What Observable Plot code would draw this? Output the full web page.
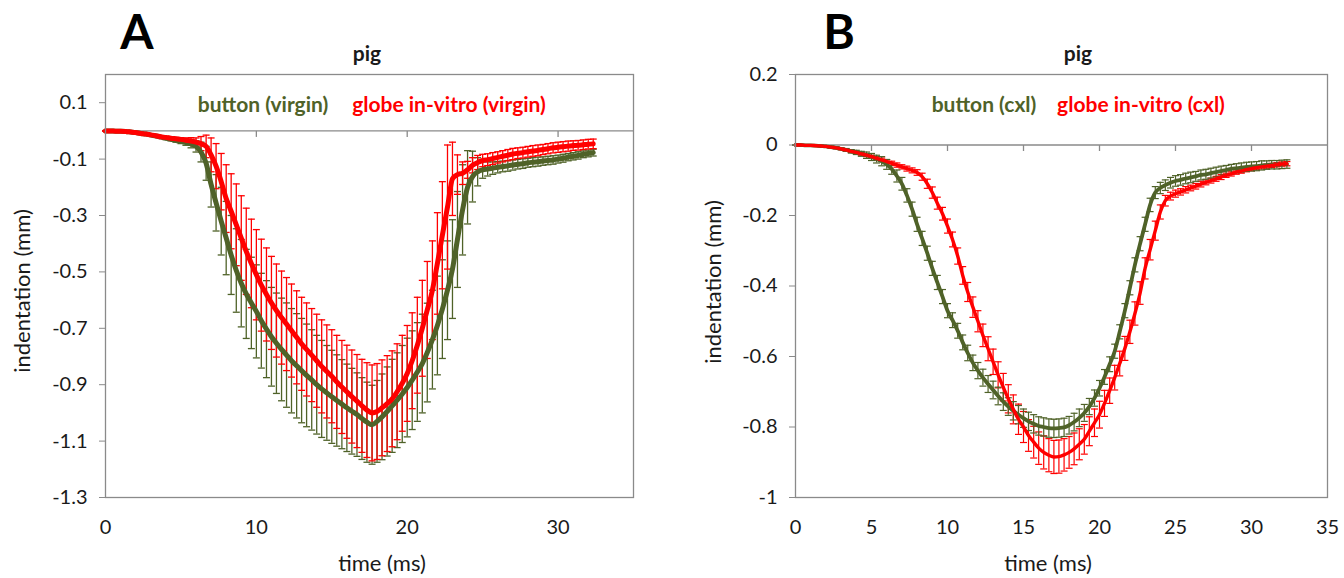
<!DOCTYPE html>
<html><head><meta charset="utf-8">
<script src="https://cdn.jsdelivr.net/npm/d3@7"></script>
<script src="https://cdn.jsdelivr.net/npm/@observablehq/plot@0.6"></script>
<style>
body{margin:0;background:#fff;font-family:Lato,"Open Sans",sans-serif;}
#wrap{position:relative;width:1344px;height:578px;overflow:hidden;background:#fff;}
.panel{position:absolute;top:0;}
.lbl{position:absolute;white-space:nowrap;color:#1a1a1a;transform:translate(-50%,-50%);line-height:1;}
.rot{transform:translate(-50%,-50%) rotate(-90deg);}
</style></head><body><div id="wrap"></div>
<script>
// ---------- data (sampled every 1/3 ms) ----------
const time = [
0,0.33,0.67, 1,1.33,1.67, 2,2.33,2.67, 3,3.33,3.67, 4,4.33,4.67, 5,5.33,5.67, 6,6.33,6.67, 7,7.33,7.67,
8,8.33,8.67, 9,9.33,9.67, 10,10.33,10.67, 11,11.33,11.67, 12,12.33,12.67, 13,13.33,13.67, 14,14.33,14.67, 15,15.33,15.67,
16,16.33,16.67, 17,17.33,17.67, 18,18.33,18.67, 19,19.33,19.67, 20,20.33,20.67, 21,21.33,21.67, 22,22.33,22.67, 23,23.33,23.67,
24,24.33,24.67, 25,25.33,25.67, 26,26.33,26.67, 27,27.33,27.67, 28,28.33,28.67, 29,29.33,29.67, 30,30.33,30.67, 31,31.33,31.67,
32,32.33];

// Panel A (virgin)
const buttonVirgin = [
0,0,-0.001, -0.001,-0.002,-0.004, -0.006,-0.009,-0.011, -0.015,-0.018,-0.022, -0.026,-0.03,-0.034, -0.037,-0.041,-0.046,
-0.055,-0.075,-0.115, -0.19,-0.255,-0.32, -0.38,-0.44,-0.495, -0.54,-0.578,-0.61, -0.64,-0.673,-0.703, -0.73,-0.753,-0.775,
-0.795,-0.815,-0.833, -0.85,-0.867,-0.883, -0.9,-0.915,-0.929, -0.943,-0.956,-0.969, -0.982,-0.994,-1.006, -1.02,-1.033,-1.042,
-1.03,-1.014,-0.995, -0.975,-0.955,-0.933, -0.91,-0.884,-0.855, -0.825,-0.786,-0.74, -0.69,-0.632,-0.565, -0.49,-0.385,-0.28,
-0.2,-0.162,-0.145, -0.138,-0.135,-0.132, -0.129,-0.126,-0.124, -0.121,-0.118,-0.116, -0.113,-0.111,-0.109, -0.107,-0.105,-0.103,
-0.1,-0.097,-0.093, -0.09,-0.087,-0.083, -0.08,-0.077];
const buttonVirginSD = [
0.001,0.001,0.001, 0.001,0.002,0.002, 0.002,0.003,0.003, 0.003,0.004,0.004, 0.005,0.005,0.006, 0.008,0.01,0.014,
0.02,0.035,0.06, 0.08,0.1,0.12, 0.13,0.14,0.148, 0.155,0.158,0.162, 0.165,0.168,0.172, 0.175,0.178,0.182,
0.185,0.185,0.185, 0.185,0.182,0.178, 0.175,0.172,0.168, 0.165,0.162,0.158, 0.155,0.152,0.148, 0.145,0.142,0.14,
0.145,0.152,0.158, 0.165,0.168,0.172, 0.175,0.175,0.175, 0.175,0.175,0.175, 0.175,0.175,0.175, 0.175,0.17,0.16,
0.13,0.09,0.05, 0.03,0.025,0.022, 0.02,0.019,0.019, 0.018,0.017,0.017, 0.016,0.016,0.016, 0.015,0.015,0.015,
0.014,0.014,0.013, 0.013,0.013,0.012, 0.012,0.012];
const globeVirgin = [
0,0,-0.001, -0.001,-0.002,-0.004, -0.006,-0.009,-0.011, -0.014,-0.017,-0.021, -0.023,-0.026,-0.028, -0.03,-0.033,-0.036,
-0.04,-0.045,-0.055, -0.085,-0.125,-0.18, -0.24,-0.285,-0.333, -0.38,-0.427,-0.47, -0.51,-0.547,-0.58, -0.61,-0.637,-0.662,
-0.685,-0.708,-0.732, -0.755,-0.775,-0.795, -0.815,-0.835,-0.853, -0.87,-0.89,-0.908, -0.925,-0.942,-0.958, -0.975,-0.99,-1.0,
-0.995,-0.982,-0.967, -0.95,-0.925,-0.895, -0.86,-0.815,-0.76, -0.7,-0.635,-0.565, -0.47,-0.37,-0.27, -0.17,-0.155,-0.15,
-0.138,-0.122,-0.112, -0.105,-0.102,-0.098, -0.094,-0.09,-0.086, -0.082,-0.079,-0.077, -0.074,-0.071,-0.069, -0.066,-0.063,-0.06,
-0.058,-0.056,-0.054, -0.052,-0.051,-0.049, -0.047,-0.046];
const globeVirginSD = [
0.001,0.001,0.001, 0.001,0.002,0.002, 0.002,0.003,0.003, 0.003,0.004,0.004, 0.004,0.005,0.005, 0.006,0.008,0.012,
0.015,0.025,0.04, 0.06,0.08,0.1, 0.12,0.133,0.145, 0.15,0.153,0.157, 0.16,0.163,0.165, 0.165,0.165,0.165,
0.165,0.165,0.165, 0.165,0.165,0.165, 0.165,0.165,0.165, 0.165,0.165,0.165, 0.165,0.165,0.165, 0.165,0.168,0.17,
0.17,0.17,0.17, 0.17,0.17,0.17, 0.17,0.17,0.17, 0.17,0.172,0.175, 0.18,0.19,0.22, 0.13,0.07,0.04,
0.03,0.027,0.025, 0.022,0.021,0.021, 0.02,0.02,0.02, 0.02,0.019,0.019, 0.019,0.019,0.019, 0.018,0.018,0.018,
0.018,0.018,0.018, 0.017,0.017,0.017, 0.017,0.017];

// Panel B (cxl)
const buttonCxl = [
0,0,-0.001, -0.001,-0.002,-0.003, -0.004,-0.006,-0.008, -0.011,-0.014,-0.018, -0.021,-0.025,-0.029, -0.034,-0.04,-0.046,
-0.055,-0.068,-0.088, -0.11,-0.143,-0.182, -0.225,-0.265,-0.307, -0.35,-0.39,-0.43, -0.47,-0.497,-0.527, -0.56,-0.59,-0.618,
-0.64,-0.66,-0.678, -0.695,-0.712,-0.728, -0.742,-0.754,-0.765, -0.775,-0.784,-0.791, -0.797,-0.8,-0.803, -0.804,-0.803,-0.801,
-0.795,-0.786,-0.774, -0.76,-0.742,-0.718, -0.69,-0.658,-0.622, -0.585,-0.53,-0.47, -0.405,-0.34,-0.28, -0.225,-0.17,-0.135,
-0.122,-0.114,-0.107, -0.102,-0.099,-0.095, -0.092,-0.089,-0.085, -0.083,-0.08,-0.077, -0.074,-0.071,-0.068, -0.066,-0.064,-0.062,
-0.061,-0.06,-0.058, -0.057,-0.056,-0.056, -0.055,-0.054];
const buttonCxlSD = [
0.001,0.001,0.001, 0.001,0.002,0.002, 0.002,0.003,0.003, 0.003,0.004,0.005, 0.006,0.007,0.009, 0.01,0.011,0.013,
0.014,0.015,0.017, 0.018,0.019,0.02, 0.02,0.02,0.02, 0.02,0.02,0.02, 0.02,0.021,0.021, 0.021,0.022,0.022,
0.023,0.024,0.024, 0.025,0.025,0.025, 0.025,0.026,0.026, 0.026,0.026,0.026, 0.026,0.026,0.026, 0.026,0.026,0.026,
0.025,0.025,0.025, 0.024,0.023,0.023, 0.022,0.021,0.021, 0.02,0.02,0.02, 0.02,0.02,0.02, 0.02,0.019,0.017,
0.016,0.015,0.015, 0.015,0.015,0.015, 0.015,0.014,0.014, 0.014,0.014,0.014, 0.014,0.013,0.013, 0.013,0.013,0.013,
0.013,0.013,0.013, 0.012,0.012,0.012, 0.012,0.012];
const globeCxl = [
0,0,-0.001, -0.001,-0.002,-0.003, -0.004,-0.006,-0.008, -0.011,-0.014,-0.018, -0.021,-0.025,-0.029, -0.033,-0.038,-0.042,
-0.047,-0.052,-0.057, -0.062,-0.067,-0.072, -0.078,-0.09,-0.11, -0.135,-0.165,-0.195, -0.23,-0.268,-0.315, -0.37,-0.417,-0.46,
-0.5,-0.54,-0.578, -0.615,-0.652,-0.687, -0.72,-0.75,-0.778, -0.8,-0.824,-0.843, -0.86,-0.872,-0.88, -0.885,-0.884,-0.879,
-0.872,-0.862,-0.849, -0.835,-0.812,-0.788, -0.765,-0.733,-0.697, -0.66,-0.62,-0.577, -0.53,-0.478,-0.42, -0.35,-0.297,-0.243,
-0.19,-0.158,-0.145, -0.138,-0.133,-0.127, -0.122,-0.117,-0.111, -0.106,-0.101,-0.096, -0.091,-0.086,-0.082, -0.077,-0.074,-0.07,
-0.067,-0.064,-0.062, -0.06,-0.058,-0.056, -0.054,-0.053];
const globeCxlSD = [
0.001,0.001,0.001, 0.001,0.001,0.001, 0.002,0.002,0.002, 0.002,0.003,0.003, 0.003,0.004,0.004, 0.004,0.005,0.005,
0.005,0.006,0.006, 0.006,0.007,0.007, 0.008,0.01,0.013, 0.016,0.017,0.018, 0.02,0.021,0.023, 0.025,0.027,0.029,
0.03,0.032,0.034, 0.036,0.037,0.039, 0.04,0.041,0.043, 0.044,0.045,0.045, 0.046,0.047,0.047, 0.047,0.047,0.046,
0.045,0.045,0.044, 0.042,0.041,0.039, 0.038,0.037,0.036, 0.035,0.035,0.034, 0.033,0.033,0.032, 0.03,0.029,0.027,
0.02,0.015,0.011, 0.01,0.009,0.009, 0.008,0.008,0.008, 0.007,0.007,0.007, 0.007,0.006,0.006, 0.006,0.006,0.006,
0.006,0.006,0.006, 0.006,0.006,0.006, 0.006,0.006];

// tick labels
const xTicksA = [0,10,20,30];
const yTicksA = [0.1,-0.1,-0.3,-0.5,-0.7,-0.9,-1.1,-1.3];
const xTicksB = [0,5,10,15,20,25,30,35];
const yTicksB = [0.2,0,-0.2,-0.4,-0.6,-0.8,-1];

// text
const seriesNamesA = ["button (virgin)", "globe in-vitro (virgin)"];
const seriesNamesB = ["button (cxl)", "globe in-vitro (cxl)"];

// ---------- drawing ----------
const GREEN = "#4F6228", RED = "#FF0000", AXIS = "#8a8a8a";
const tickDown = {draw(ctx){ctx.moveTo(0,0); ctx.lineTo(0,6);}};
const capSym = w => ({draw(ctx){ctx.moveTo(-w/2,0); ctx.lineTo(w/2,0);}});

function rows(mean, sd){ return time.map((t,i)=>({t, v: mean[i], e: sd[i]})); }

function errorMarks(data, color, capW, sw){
  return [
    Plot.ruleX(data, {x:"t", y1:d=>d.v-d.e, y2:d=>d.v+d.e, stroke:color, strokeWidth:sw}),
    Plot.dot(data, {x:"t", y:d=>d.v+d.e, symbol:capSym(capW), stroke:color, fill:"none", strokeWidth:sw}),
    Plot.dot(data, {x:"t", y:d=>d.v-d.e, symbol:capSym(capW), stroke:color, fill:"none", strokeWidth:sw})
  ];
}

function panel({xTicks, yTicks, yDomain, marginLeft, marginRight, series, lines, capW, errW}){
  return Plot.plot({
    width: 672, height: 578,
    marginLeft, marginRight, marginTop: 74, marginBottom: 81,
    x: {domain: [0,35]},
    y: {domain: yDomain},
    style: {fontFamily: "Lato, 'Open Sans', sans-serif", fontSize: "20px", color: "#1a1a1a", background: "transparent", overflow: "visible"},
    marks: [
      Plot.ruleY([0], {stroke: AXIS, strokeWidth: 1.3}),
      Plot.dot(xTicks.filter(d=>d>0 && d<35), {x:d=>d, y:()=>0, symbol: tickDown, stroke: AXIS, fill:"none", strokeWidth:1.3}),
      ...series.flatMap(s => errorMarks(s.data, s.color, capW, errW)),
      ...lines.map(s => Plot.line(s.data, {x:"t", y:"v", stroke:s.color, strokeWidth:s.w, curve:"monotone-x"})),
      Plot.frame({stroke: AXIS, strokeWidth: 1.3}),
      Plot.axisY({ticks: yTicks, tickSize: 6, tickPadding: 12, tickFormat: d=>String(d), stroke: AXIS, label: null, fontSize: 20}),
      Plot.axisX({ticks: xTicks, tickSize: 0, tickPadding: 22, tickFormat: d=>String(d), label: null, fontSize: 20})
    ]
  });
}

const wrap = document.getElementById("wrap");

const gA = rows(buttonVirgin, buttonVirginSD), rA = rows(globeVirgin, globeVirginSD);
const gB = rows(buttonCxl, buttonCxlSD), rB = rows(globeCxl, globeCxlSD);

const plotA = panel({
  xTicks: xTicksA, yTicks: yTicksA, yDomain: [-1.3, 0.2],
  marginLeft: 105, marginRight: 39, capW: 7, errW: 1.3,
  series: [{data: gA, color: GREEN}, {data: rA, color: RED}],
  lines: [{data: gA, color: GREEN, w: 5}, {data: rA, color: RED, w: 5}]
});
const plotB = panel({
  xTicks: xTicksB, yTicks: yTicksB, yDomain: [-1, 0.2],
  marginLeft: 123, marginRight: 17, capW: 7, errW: 1.2,
  series: [{data: rB, color: RED}, {data: gB, color: GREEN}],
  lines: [{data: gB, color: GREEN, w: 3.8}, {data: rB, color: RED, w: 3.4}]
});
plotA.classList.add("panel"); plotA.style.left = "0px";
plotB.classList.add("panel"); plotB.style.left = "672px";
wrap.appendChild(plotA); wrap.appendChild(plotB);

function label(text, x, y, css){
  const d = document.createElement("div");
  d.className = "lbl" + (css.rot ? " rot" : "");
  d.textContent = text;
  d.style.left = x + "px"; d.style.top = y + "px";
  d.style.fontSize = css.size + "px";
  if (css.bold) d.style.fontWeight = "bold";
  if (css.color) d.style.color = css.color;
  wrap.appendChild(d);
}
label("A", 137, 31, {size: 48, bold: true, color: "#000"});
label("B", 839, 31, {size: 48, bold: true, color: "#000"});
label("pig", 367, 52, {size: 21, bold: true});
label("pig", 1078, 52, {size: 21, bold: true});
label(seriesNamesA[0], 263, 103, {size: 21, bold: true, color: GREEN});
label(seriesNamesA[1], 449, 103, {size: 21, bold: true, color: RED});
label(seriesNamesB[0], 984, 103, {size: 21, bold: true, color: GREEN});
label(seriesNamesB[1], 1141, 103, {size: 21, bold: true, color: RED});
label("indentation (mm)", 22, 291, {size: 22, rot: true});
label("indentation (mm)", 713, 282, {size: 22, rot: true});
label("time (ms)", 382, 563, {size: 22});
label("time (ms)", 1048, 563, {size: 22});
</script></body></html>
